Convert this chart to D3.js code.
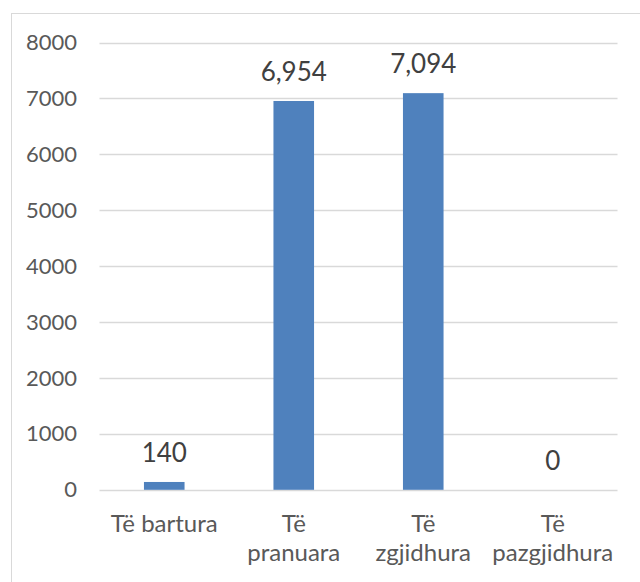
<!DOCTYPE html>
<html><head><meta charset="utf-8">
<script src="https://cdn.jsdelivr.net/npm/d3@7"></script>
<style>body{margin:0;background:#fff}svg{display:block}</style>
</head><body>
<svg id="chart" width="640" height="582"></svg>
<script>
const categories = ["Të bartura", "Të pranuara", "Të zgjidhura", "Të pazgjidhura"];
const values = [140, 6954, 7094, 0];
const yTicks = [0, 1000, 2000, 3000, 4000, 5000, 6000, 7000, 8000];

const svg = d3.select("#chart");
const font = "Lato, 'Open Sans', sans-serif";
const textColor = "#595959";

// outer chart border
svg.append("rect").attr("x", 11.5).attr("y", 13.5).attr("width", 700).attr("height", 700)
  .attr("fill", "none").attr("stroke", "#D9D9D9").attr("stroke-width", 1);

const mLeft = 99.5, mRight = 617.5, mTop = 42.5, mBottom = 489.8;
const x = d3.scaleBand().domain(categories).range([mLeft, mRight])
  .paddingInner(2.19 / 3.19).paddingOuter(2.19 / 3.19 / 2);
const y = d3.scaleLinear().domain([0, 8000]).range([mBottom, mTop]);

// gridlines
svg.append("g").selectAll("line").data(yTicks).join("line")
  .attr("x1", mLeft).attr("x2", mRight)
  .attr("y1", d => Math.round(y(d)) + 0.5).attr("y2", d => Math.round(y(d)) + 0.5)
  .attr("stroke", "#D9D9D9").attr("stroke-width", 1.3);

// y axis labels
const yAxis = d3.axisLeft(y).tickValues(yTicks).tickSize(0).tickPadding(0).tickFormat(d3.format("d"));
const gy = svg.append("g").attr("transform", "translate(77,0)").call(yAxis);
gy.select(".domain").remove();
gy.selectAll("text").attr("fill", textColor).style("font-family", font).style("font-size", "22px");

// bars
svg.append("g").selectAll("rect").data(values).join("rect")
  .attr("x", (d, i) => x(categories[i]))
  .attr("width", x.bandwidth())
  .attr("y", d => y(d))
  .attr("height", d => y(0) - y(d))
  .attr("fill", "#4F81BD");

// data labels
svg.append("g").selectAll("text").data(values).join("text")
  .attr("x", (d, i) => x(categories[i]) + x.bandwidth() / 2)
  .attr("y", d => y(d) - 20)
  .attr("text-anchor", "middle")
  .attr("fill", "#404040")
  .style("font-family", font).style("font-size", "26px")
  .text(d => d3.format(",")(d));

// category labels (wrapped)
const xAxis = d3.axisBottom(x).tickSize(0).tickPadding(0);
const gx = svg.append("g").call(xAxis);
gx.select(".domain").remove();
gx.selectAll("text").remove();
const maxW = x.step() * 0.9;
gx.selectAll(".tick").each(function(cat) {
  const t = d3.select(this).append("text")
    .attr("text-anchor", "middle").attr("fill", textColor)
    .style("font-family", font).style("font-size", "24px");
  t.text(cat);
  let lines = [cat];
  if (t.node().getComputedTextLength() > maxW) {
    const words = cat.split(" ");
    lines = [words[0], words.slice(1).join(" ")];
  }
  t.text(null);
  lines.forEach((ln, k) => {
    t.append("tspan").attr("x", 0).attr("y", 532 + k * 29).text(ln);
  });
});
</script>
</body></html>
